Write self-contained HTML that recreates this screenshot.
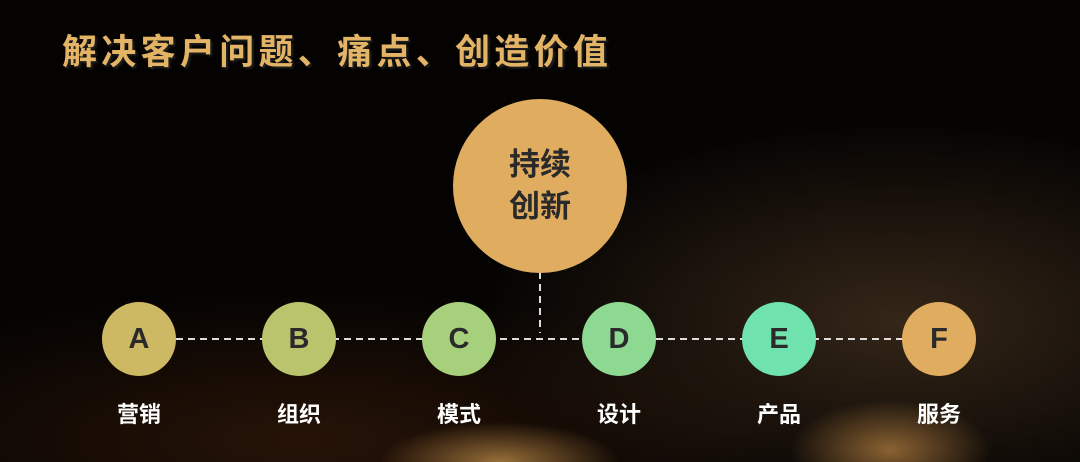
<!DOCTYPE html>
<html><head><meta charset="utf-8"><style>
body{margin:0;width:1080px;height:462px;overflow:hidden;background:#000;font-family:"Liberation Sans","Noto Sans CJK SC",sans-serif;}
.bg{position:absolute;left:0;top:0;width:1080px;height:462px;background:
radial-gradient(ellipse 120px 40px at 500px 462px,rgba(255,190,100,.55),transparent),
radial-gradient(ellipse 100px 50px at 890px 450px,rgba(255,180,90,.5),transparent),
radial-gradient(ellipse 420px 200px at 900px 320px,rgba(110,80,50,.45),transparent),
radial-gradient(ellipse 500px 150px at 300px 440px,rgba(60,30,10,.6),transparent),
#050302;}
.t{position:absolute;left:62px;top:24px;font-size:35px;font-weight:bold;color:#e3b466;letter-spacing:4.3px;text-shadow:2px 2px 2px #222;}
.c{position:absolute;border-radius:50%;display:flex;align-items:center;justify-content:center;font-weight:bold;color:#2a2a2a;}
.s{width:74px;height:74px;font-size:29px;top:302px;}
.l{position:absolute;top:397px;width:100px;text-align:center;color:#fff;font-weight:bold;font-size:22px;}
</style></head><body><div class="bg"></div>
<div class="t">解决客户问题、痛点、创造价值</div>
<svg style="position:absolute;left:0;top:0" width="1080" height="462">
<line x1="140" y1="339" x2="940" y2="339" stroke="#ddd" stroke-width="2" stroke-dasharray="7,5"/>
<line x1="540" y1="272" x2="540" y2="333" stroke="#ddd" stroke-width="2" stroke-dasharray="7,5"/>
</svg>
<div class="c" style="left:453px;top:99px;width:174px;height:174px;background:#e0ad60;font-size:31px;line-height:42px;text-align:center;color:#2a2a2a">持续<br>创新</div>
<div class="c s" style="left:102px;background:#cdb863">A</div>
<div class="c s" style="left:262px;background:#b9c46c">B</div>
<div class="c s" style="left:422px;background:#a6d07c">C</div>
<div class="c s" style="left:582px;background:#8dd991">D</div>
<div class="c s" style="left:742px;background:#6fe2ae">E</div>
<div class="c s" style="left:902px;background:#e0ad60">F</div>
<div class="l" style="left:89px">营销</div>
<div class="l" style="left:249px">组织</div>
<div class="l" style="left:409px">模式</div>
<div class="l" style="left:569px">设计</div>
<div class="l" style="left:729px">产品</div>
<div class="l" style="left:889px">服务</div>
</body></html>
